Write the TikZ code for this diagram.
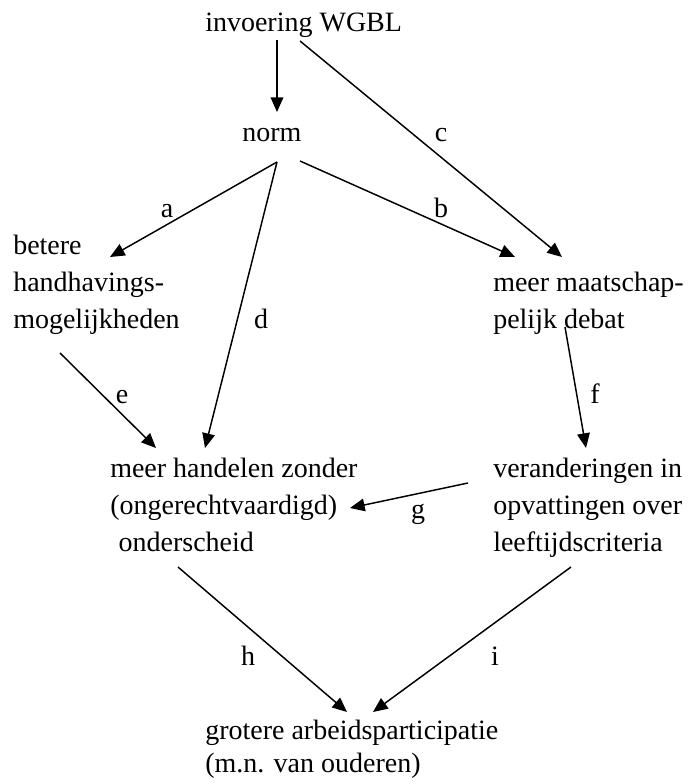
\documentclass[tikz,border=0pt]{standalone}
\usepackage{fontspec}
\setmainfont{Liberation Serif}
\usepackage{tikz}
\usetikzlibrary{positioning,arrows.meta}

\begin{document}
\begin{tikzpicture}[x=0.75pt, y=-0.75pt,
  font=\fontsize{21}{27.5}\selectfont,
  box/.style={anchor=base west, inner sep=0pt, align=left},
  lbl/.style={anchor=base, inner sep=0pt},
  pijl/.style={-{Triangle[length=11pt,width=9.5pt]}, line width=1.1pt}]
\useasboundingbox (0,0) rectangle (689,784);
% factors (base = last line)
\node[box] (wgbl) at (205,32) {invoering WGBL};
\node[box] (norm) at (242,142) {norm};
\node[box] (handh) at (13,328) {betere\\handhavings-\\mogelijkheden};
\node[box] (debat) at (493,328) {meer maatschap-\\pelijk debat};
\node[box] (handelen) at (110,551) {meer handelen zonder\\(ongerechtvaardigd)\\\hspace*{0.3em}onderscheid};
\node[box] (veran) at (493,551) {veranderingen in\\opvattingen over\\leeftijdscriteria};
\node[box, font=\fontsize{21}{24.75}\selectfont] (arbeid) at (205,772) {grotere arbeidsparticipatie\\(m.n. van ouderen)};
% causal arrows
\draw[pijl] ([shift={(72,8)}]wgbl.base west) -- ([shift={(35,-30)}]norm.base west);
\draw[pijl] ([shift={(95,9)}]wgbl.base west) -- ([shift={(69,-71)}]debat.base west);
\draw[pijl] ([shift={(35,20)}]norm.base west) -- ([shift={(97,-71)}]handh.base west);
\draw[pijl] ([shift={(58,19)}]norm.base west) -- ([shift={(22,-71)}]debat.base west);
\draw[pijl] ([shift={(35,20)}]norm.base west) -- ([shift={(95,-103)}]handelen.base west);
\draw[pijl] ([shift={(47,25)}]handh.base west) -- ([shift={(46,-103)}]handelen.base west);
\draw[pijl] ([shift={(72,-1)}]debat.base west) -- ([shift={(93,-103)}]veran.base west);
\draw[pijl] ([shift={(-25,-68)}]veran.base west) -- ([shift={(240,-43)}]handelen.base west);
\draw[pijl] ([shift={(68,16)}]handelen.base west) -- ([shift={(142,-60)}]arbeid.base west);
\draw[pijl] ([shift={(78,16)}]veran.base west) -- ([shift={(168,-60)}]arbeid.base west);
% path labels
\node[lbl] (la) at (167,218) {a};
\node[lbl] (lb) at (441,218) {b};
\node[lbl] (lc) at (441,142) {c};
\node[lbl] (ld) at (261,328) {d};
\node[lbl] (le) at (122,403) {e};
\node[lbl] (lf) at (595,403) {f};
\node[lbl] (lg) at (418,518) {g};
\node[lbl] (lh) at (248,665) {h};
\node[lbl] (li) at (495,665) {i};
\end{tikzpicture}
\end{document}
